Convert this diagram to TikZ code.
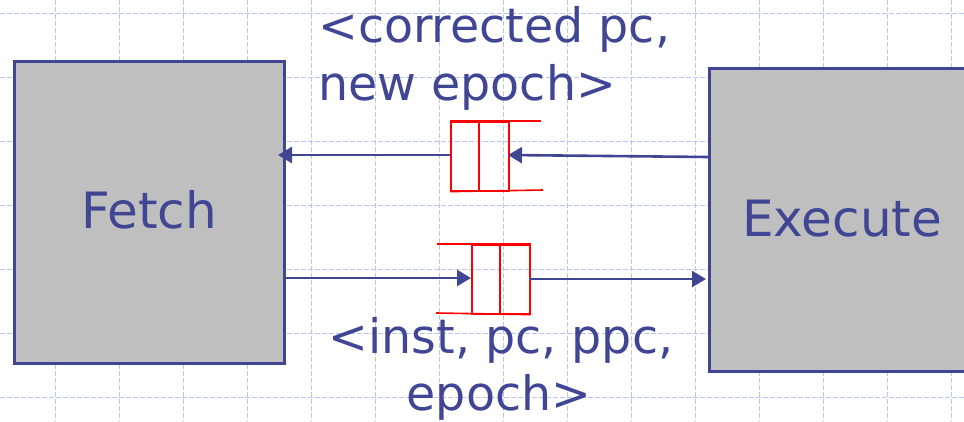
\documentclass[tikz,border=0pt]{standalone}
\usepackage{fontspec}
\setmainfont{DejaVu Sans}
\usetikzlibrary{arrows.meta}
\definecolor{ink}{RGB}{64,70,148}
\definecolor{boxgray}{RGB}{191,191,191}
\definecolor{gridblue}{RGB}{185,198,245}
\tikzset{
  x=1pt, y=-1pt,
  unit/.style={draw=ink, line width=2.8pt, fill=boxgray, anchor=north west,
    inner sep=0pt},
  stagelabel/.style={text=ink, font=\fontsize{50}{58}\selectfont, inner sep=0pt},
  fifobox/.style={draw=red, line width=1.6pt, anchor=north west, inner sep=0pt,
    minimum width=58pt, minimum height=69pt},
  fifoline/.style={draw=red, line width=1.6pt},
  flow/.style={draw=ink, line width=2.6pt, -{Triangle[length=14pt,width=16pt]}},
  caption/.style={text=ink, font=\fontsize{47.5}{58}\selectfont, inner sep=0pt},
  gridline/.style={draw=gridblue, line width=1pt, dash pattern=on 5pt off 2pt}
}
\begin{document}
\begin{tikzpicture}
\useasboundingbox (0,0) rectangle (964,421);
\clip (0,0) rectangle (964,421);
% background grid
\foreach \gx in {55,119,...,951} \draw[gridline] (\gx,0) -- (\gx,421);
\foreach \gy in {13,77,...,397} \draw[gridline] (0,\gy) -- (964,\gy);

% pipeline stages
\node[unit, minimum width=270pt, minimum height=302pt] (fetch) at (13,60) {};
\node[stagelabel, anchor=base] (fetchtxt) at (149,228) {Fetch};
\node[unit, minimum width=300pt, minimum height=303pt] (exec) at (708,67) {};
\node[stagelabel, anchor=base west] (exectxt) at (742,236) {Execute};

% redirect FIFO (Execute -> Fetch)
\node[fifobox] (rfifo) at (450,121) {};
\draw[fifoline] (479,121) -- (479,190);
\draw[fifoline] (rfifo.north west) -- (541,121);
\draw[fifoline] (rfifo.south west) -- (543,190);

% instruction FIFO (Fetch -> Execute)
\node[fifobox] (ififo) at (471,244) {};
\draw[fifoline] (500,244) -- (500,313);
\draw[fifoline] (437,244) -- (ififo.north east);
\draw[fifoline] (436,313) -- (ififo.south east);

% connector end points on the stage borders
\coordinate (exout) at (708,157);
\coordinate (rfin)  at (508,155);
\coordinate (rfout) at (450,155);
\coordinate (fein)  at (278,155);
\coordinate (feout) at (283,278);
\coordinate (ifin)  at (471,278);
\coordinate (ifout) at (529,279);
\coordinate (exin)  at (706,279);

\draw[flow] (exout) -- (rfin);
\draw[flow] (rfout) -- (fein);
\draw[flow] (feout) -- (ifin);
\draw[flow] (ifout) -- (exin);

% message labels
\node[caption, anchor=base west] (redir1) at (318,42) {<corrected pc,};
\node[caption, anchor=base west] (redir2) at (318,100) {new epoch>};
\node[caption, anchor=base] (inst1) at (501,353) {<inst, pc, ppc,};
\node[caption, anchor=base] (inst2) at (499,410) {epoch>};
\end{tikzpicture}
\end{document}
